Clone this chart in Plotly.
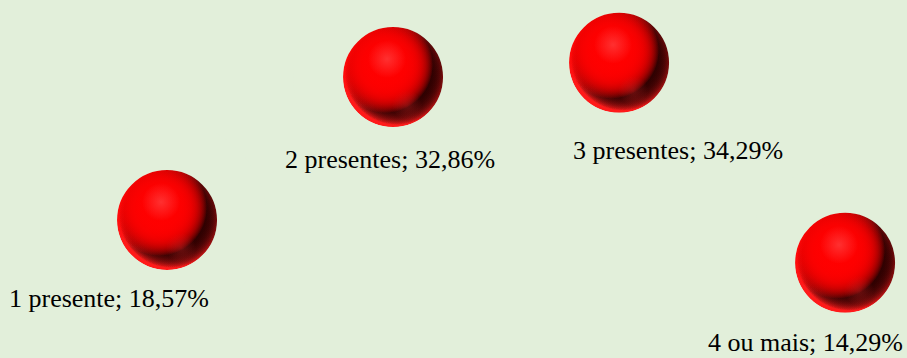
import plotly.graph_objects as go

# dados
categorias = ["1 presente", "2 presentes", "3 presentes", "4 ou mais"]
posicoes = [1, 2, 3, 4]
percentuais = [18.57, 32.86, 34.29, 14.29]
rotulos = [f"{c}; {p:.2f}".replace(".", ",") + "%" for c, p in zip(categorias, percentuais)]

# deslocamento dos rótulos em pixels (arrastados à mão no original)
rot_dx = [-58, -3, 59, -40]
rot_dy = [78, 82, 88, 80]

FUNDO = "#E2EFDA"
W, H = 907, 358
X_RANGE = [0.261, 4.274]
Y_RANGE = [4.77, 40.57]
px_x = W / (X_RANGE[1] - X_RANGE[0])
px_y = H / (Y_RANGE[1] - Y_RANGE[0])

# camadas da esfera: (dx, dy, tamanho, cor borda, cor centro, cópias)
camadas = [
    (0, 0, 100, "#FF1A1A", "#FF1A1A", 1),                              # aro refletido
    (4, -4, 104, "rgba(40,0,0,0)", "rgba(40,0,0,1)", 8),               # sombra
    (-8, -12, 96, "rgba(255,0,0,0)", "rgba(255,0,0,1)", 6),            # luz principal
    (14, 28, 30, "rgba(220,40,40,0)", "rgba(220,40,40,0.35)", 1),      # reflexo inferior
    (-6, -18, 38, "rgba(255,120,120,0)", "rgba(255,120,120,0.4)", 1),  # brilho
]

fig = go.Figure()
layout_axes = {}


def eixo(n, dx, dy):
    xr = [X_RANGE[0] - dx / px_x, X_RANGE[1] - dx / px_x]
    yr = [Y_RANGE[0] + dy / px_y, Y_RANGE[1] + dy / px_y]
    sx = "" if n == 1 else str(n)
    ax = dict(range=xr, visible=False, fixedrange=True)
    ay = dict(range=yr, visible=False, fixedrange=True)
    if n > 1:
        ax["overlaying"] = "x"
        ay["overlaying"] = "y"
    layout_axes["xaxis" + sx] = ax
    layout_axes["yaxis" + sx] = ay
    return "x" + sx, "y" + sx


n = 0
for dx, dy, tam, borda, centro, copias in camadas:
    n += 1
    xa, ya = eixo(n, dx, dy)
    for _ in range(copias):
        fig.add_trace(go.Scatter(
            x=posicoes, y=percentuais, mode="markers", xaxis=xa, yaxis=ya,
            marker=dict(size=tam, color=borda, line=dict(width=0),
                        gradient=dict(type="radial", color=centro)),
            hoverinfo="skip", showlegend=False,
        ))

# máscara para recortar o que sai da esfera
n += 1
xa, ya = eixo(n, 0, 0)
fig.add_trace(go.Scatter(
    x=posicoes, y=percentuais, mode="markers", xaxis=xa, yaxis=ya,
    marker=dict(size=150, color="rgba(0,0,0,0)", line=dict(width=50, color=FUNDO)),
    customdata=rotulos, hovertemplate="%{customdata}<extra></extra>", showlegend=False,
))

for i in range(len(posicoes)):
    fig.add_annotation(
        x=posicoes[i], y=percentuais[i], xref="x", yref="y", text=rotulos[i],
        showarrow=False, xshift=rot_dx[i], yshift=-rot_dy[i],
        font=dict(family="Liberation Serif, Times New Roman, serif", size=26, color="#000000"),
    )

fig.update_layout(
    width=W, height=H,
    margin=dict(l=0, r=0, t=0, b=0),
    paper_bgcolor=FUNDO, plot_bgcolor=FUNDO,
    **layout_axes,
)

# tira a margem padrão do body para o gráfico ocupar a janela toda
fig.write_html(
    "out.html",
    config={"displayModeBar": False},
    post_script="document.body.style.margin='0';document.body.style.background='" + FUNDO + "';",
)
